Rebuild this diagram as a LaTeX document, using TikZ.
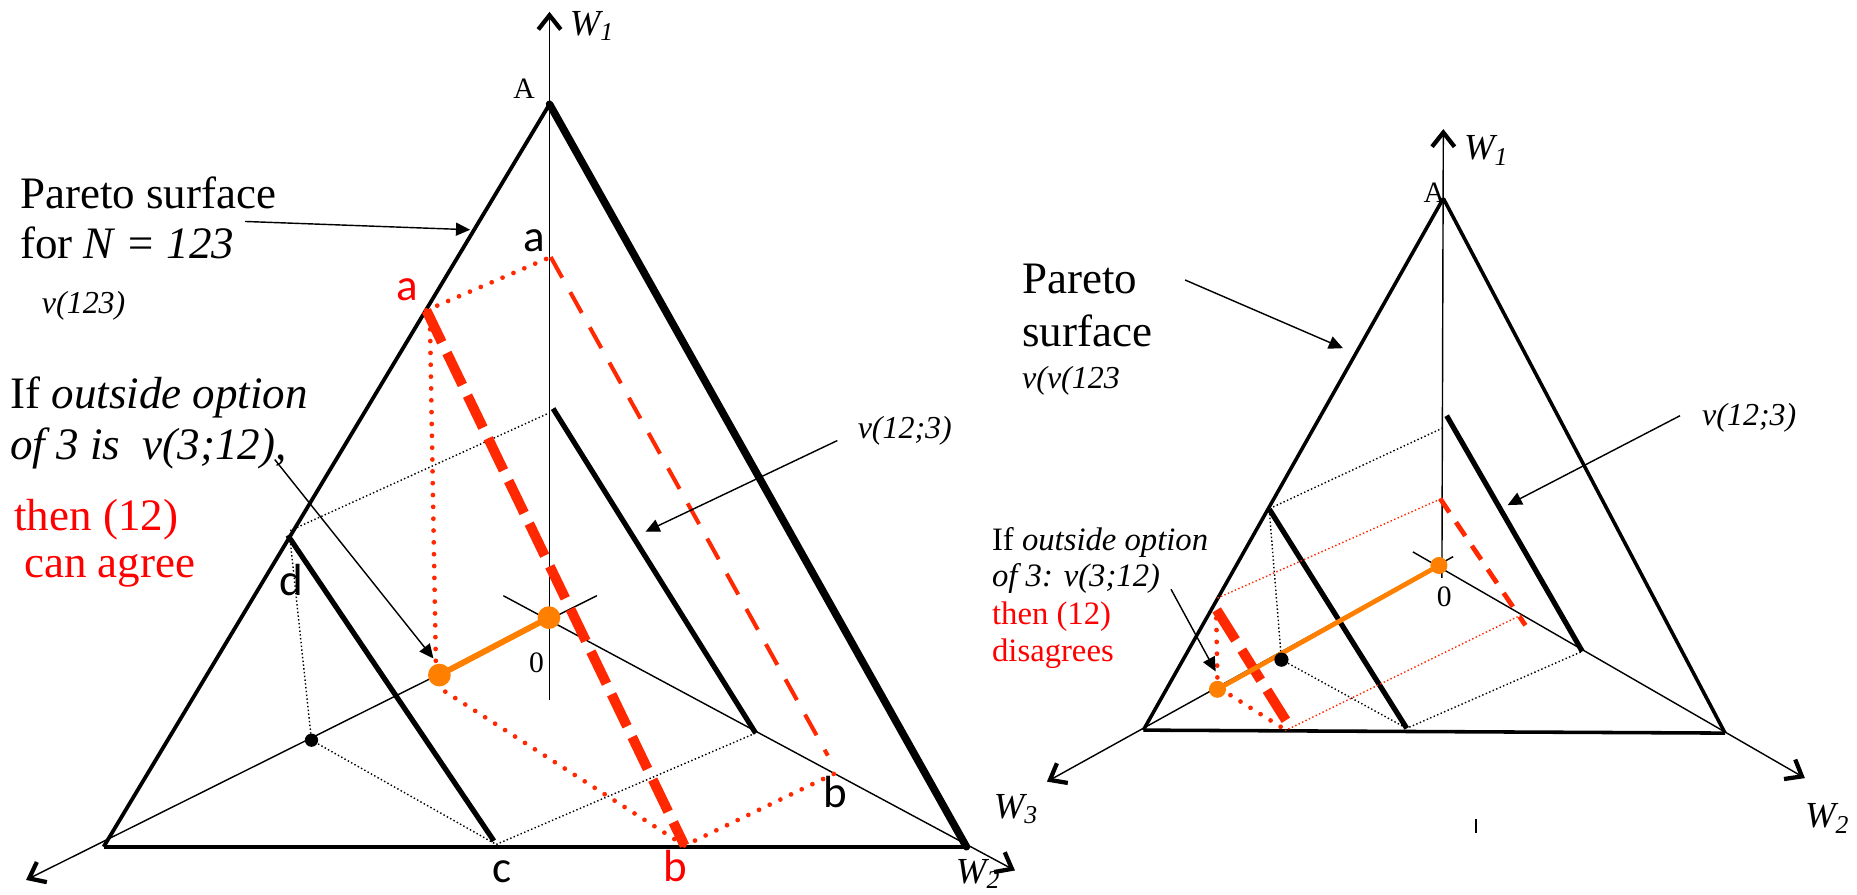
\documentclass[tikz,border=0pt]{standalone}
\usepackage{fontspec}
\setmainfont{Liberation Serif}
\newfontfamily\calib{Carlito}
\usetikzlibrary{arrows.meta}
\definecolor{lred}{RGB}{255,40,0}
\definecolor{tred}{RGB}{255,0,0}
\definecolor{orng}{RGB}{255,128,0}
\tikzset{
  axisline/.style={line width=0.6pt},
  waxis/.style={line width=0.6pt,-{Straight Barb[length=6pt,width=9.5pt,line width=1.8pt]}},
  ann/.style={line width=0.6pt,-{Triangle[length=6pt,width=5.5pt]}},
  edgeL/.style={line width=1.6pt},
  edgeR/.style={line width=3.2pt},
  edgeB/.style={line width=1.8pt},
  inner/.style={line width=2.2pt},
  redge/.style={line width=1.5pt},
  bdot/.style={line width=0.6pt,densely dotted},
  rdots/.style={lred,line width=2pt,line cap=round,dash pattern=on 0pt off 5pt},
  fdots/.style={lred,line width=0.6pt,densely dotted},
  thickdash/.style={lred,line width=4.2pt,dash pattern=on 15pt off 5pt},
  thindash/.style={lred,line width=1.7pt,dash pattern=on 10pt off 7pt},
  rthindash/.style={lred,line width=2pt,dash pattern=on 7pt off 5pt},
  orline/.style={orng,line width=2.5pt},
  big/.style={inner sep=0pt,anchor=base west,font=\fontsize{19}{22}\selectfont},
  mid/.style={inner sep=0pt,anchor=base west,font=\fontsize{13.5}{15}\selectfont},
  sml/.style={inner sep=0pt,anchor=base west,font=\fontsize{13.8}{15}\selectfont},
  letter/.style={inner sep=0pt,font=\calib\fontsize{19}{21}\selectfont},
  small/.style={inner sep=0pt,font=\fontsize{12.5}{14}\selectfont},
  wlab/.style={inner sep=0pt,font=\fontsize{15.5}{17}\selectfont\itshape},
}
\begin{document}
\begin{tikzpicture}[x=0.5pt,y=-0.5pt]
\useasboundingbox (0,0) rectangle (1568,755);

% ================= LEFT DIAGRAM =================
\coordinate (LA) at (464,88);
\coordinate (LB3) at (87.5,715);
\coordinate (LB2) at (816,715);
\coordinate (LO) at (463.5,521.5);
\coordinate (LW1bot) at (464,591);
\coordinate (LW1tip) at (464,10);
\coordinate (LW2s) at (425,503);
\coordinate (LW2tip) at (857,735);
\coordinate (LW3s) at (504,503);
\coordinate (LW3tip) at (22,743);
\coordinate (LRi1) at (467,345);
\coordinate (LRi2) at (638,619);
\coordinate (LLi1) at (243,452);
\coordinate (LLi2) at (417,710);
\coordinate (Ldot) at (263,625);
\coordinate (Lc) at (419,713);
\coordinate (Lpa) at (360,262);
\coordinate (Lax) at (465,217);
\coordinate (Lrb) at (578,714);
\coordinate (Lbe) at (699,638);
\coordinate (Lbw) at (707,652);
\coordinate (LL) at (371,570);

% axes
\draw[waxis] (LW1bot) -- (LW1tip);
\draw[waxis] (LW2s) -- (LW2tip);
\draw[waxis] (LW3s) -- (LW3tip);

% dotted construction lines
\draw[bdot] (245,448) -- (463,349);
\draw[bdot] (245,456) -- (Ldot);
\draw[bdot] (Ldot) -- (Lc);
\draw[bdot] (Lc) -- (LRi2);

% triangle
\draw[edgeL] (LA) -- (LB3);
\draw[edgeB] (LB3) -- (LB2);
\draw[edgeR,line cap=round] (LA) -- (LB2);

% inner lines
\draw[inner] (LRi1) -- (LRi2);
\draw[inner] (LLi1) -- (LLi2);

% red construction
\draw[rdots] (Lpa) -- (Lax);
\draw[rdots] (363,268) -- (368,558);
\draw[rdots] (376,584) -- (Lrb) -- (Lbw);
\draw[thindash] (Lax) -- (Lbe);
\draw[thickdash] (Lpa) -- (Lrb);

% orange
\draw[orline] (LL) -- (LO);
\fill[orng] (LL) circle (4.8pt);
\fill[orng] (LO) circle (4.8pt);
\fill[black] (Ldot) circle (2.8pt);

% labels
\node[small] (lAl) at (442.5,75) {A};
\node[small] (l0) at (453,560) {0};
\node[wlab] (lW1) at (500,22) {W\textsubscript{1}};
\node[wlab] (lW2) at (826,738) {W\textsubscript{2}};
\node[letter,text=tred] (lra) at (344,245) {a};
\node[letter] (lba) at (451.5,203) {a};
\node[letter] (ld) at (246,490) {d};
\node[letter] (lc) at (424,736) {c};
\node[letter,text=tred] (lrb) at (570,731) {b};
\node[letter] (lbb) at (705,669) {b};

\node[big] (lp1) at (16.7,176) {Pareto surface};
\node[big] (lp2) at (16.7,218) {for \textit{N = 123}};
\node[mid] (lv123) at (35,265) {\textit{v(123)}};
\node[big] (lif1) at (8.4,345) {If \textit{outside option}};
\node[big] (lif2) at (8.4,388) {\textit{of 3 is\ \ v(3;12),}};
\node[big,text=tred] (lthen) at (11.7,447.6) {then (12)};
\node[big,text=tred] (lagree) at (20,488) {can agree};
\node[mid,anchor=center] (lv123b) at (764,364) {\textit{v(12;3)}};

\coordinate (LpArS) at (207,187);
\coordinate (LpArE) at (397,194);
\draw[ann] (LpArS) -- (LpArE);
\coordinate (LifArS) at (232,388);
\coordinate (LifArE) at (366,556);
\draw[ann] (LifArS) -- (LifArE);
\coordinate (LvArS) at (707,372);
\coordinate (LvArE) at (545,449);
\draw[ann] (LvArS) -- (LvArE);

% ================= RIGHT DIAGRAM =================
\coordinate (RA) at (1218.7,167.5);
\coordinate (RB3) at (965.4,616.5);
\coordinate (RB2) at (1456.6,619);
\coordinate (RO) at (1215,477.5);
\coordinate (RW1bot) at (1217.5,488);
\coordinate (RW1tip) at (1218.7,109);
\coordinate (RW2s) at (1193,466);
\coordinate (RW2tip) at (1524,657);
\coordinate (RW3s) at (1227,470);
\coordinate (RW3tip) at (884,660);
\coordinate (RRi1) at (1221.5,351);
\coordinate (RRi2) at (1336,550);
\coordinate (RLi1) at (1071.8,430);
\coordinate (RLi2) at (1187.8,615);
\coordinate (Rdot) at (1082,557);
\coordinate (RL) at (1028,582);

\draw[waxis] (RW1bot) -- (RW1tip);
\draw[waxis] (RW2s) -- (RW2tip);
\draw[waxis] (RW3s) -- (RW3tip);

\draw[bdot] (1075,428) -- (1219,361);
\draw[bdot] (1072,434) -- (Rdot);
\draw[bdot] (Rdot) -- (RLi2);
\draw[bdot] (1190,614) -- (RRi2);

\draw[redge] (RA) -- (RB3);
\draw[redge] (RA) -- (RB2);
\draw[redge] (RB3) -- (RB2);
\draw[inner] (RRi1) -- (RRi2);
\draw[inner] (RLi1) -- (RLi2);

\draw[fdots] (1028,505) -- (1217,421);
\draw[fdots] (1085,617) -- (1285,519);
\draw[rthindash] (1216,421) -- (1288,528);
\draw[rdots] (1027,522) -- (1028,576);
\draw[rdots] (1039,587) -- (1085,616);
\draw[thickdash] (1027.3,515) -- (1086.5,609.4);

\draw[orng,line width=2pt] (RL) -- (RO);
\fill[orng] (RL) circle (3.6pt);
\fill[orng] (RO) circle (3.6pt);
\fill[black] (Rdot) circle (3pt);

\draw[line width=0.8pt] (1246.3,691.5) -- (1246.3,703.4);

\node[small] (rAl) at (1211,162.5) {A};
\node[small] (r0) at (1219.5,503.5) {0};
\node[wlab] (rW1) at (1255,127) {W\textsubscript{1}};
\node[wlab] (rW3) at (858,683) {W\textsubscript{3}};
\node[wlab] (rW2) at (1543,691) {W\textsubscript{2}};

\node[big] (rp1) at (862.7,247.6) {Pareto};
\node[big] (rp2) at (862.7,292.7) {surface};
\node[mid] (rv) at (862.7,327.7) {\textit{v(v(123}};
\node[sml] (rif1) at (837.3,464.4) {If \textit{outside option}};
\node[sml] (rif2) at (837.3,495.4) {\textit{of 3: v(3;12)}};
\node[sml,text=tred] (rthen) at (837.3,527.7) {then (12)};
\node[sml,text=tred] (rdis) at (837.3,558.7) {disagrees};
\node[mid,anchor=center] (rv123) at (1477,353) {\textit{v(12;3)}};

\coordinate (RpArS) at (1000.6,236.4);
\coordinate (RpArE) at (1134,294);
\draw[ann] (RpArS) -- (RpArE);
\coordinate (RifArS) at (988.8,497.6);
\coordinate (RifArE) at (1026.5,567);
\draw[ann] (RifArS) -- (RifArE);
\coordinate (RvArS) at (1418.6,351);
\coordinate (RvArE) at (1273,426.5);
\draw[ann] (RvArS) -- (RvArE);
\end{tikzpicture}
\end{document}
